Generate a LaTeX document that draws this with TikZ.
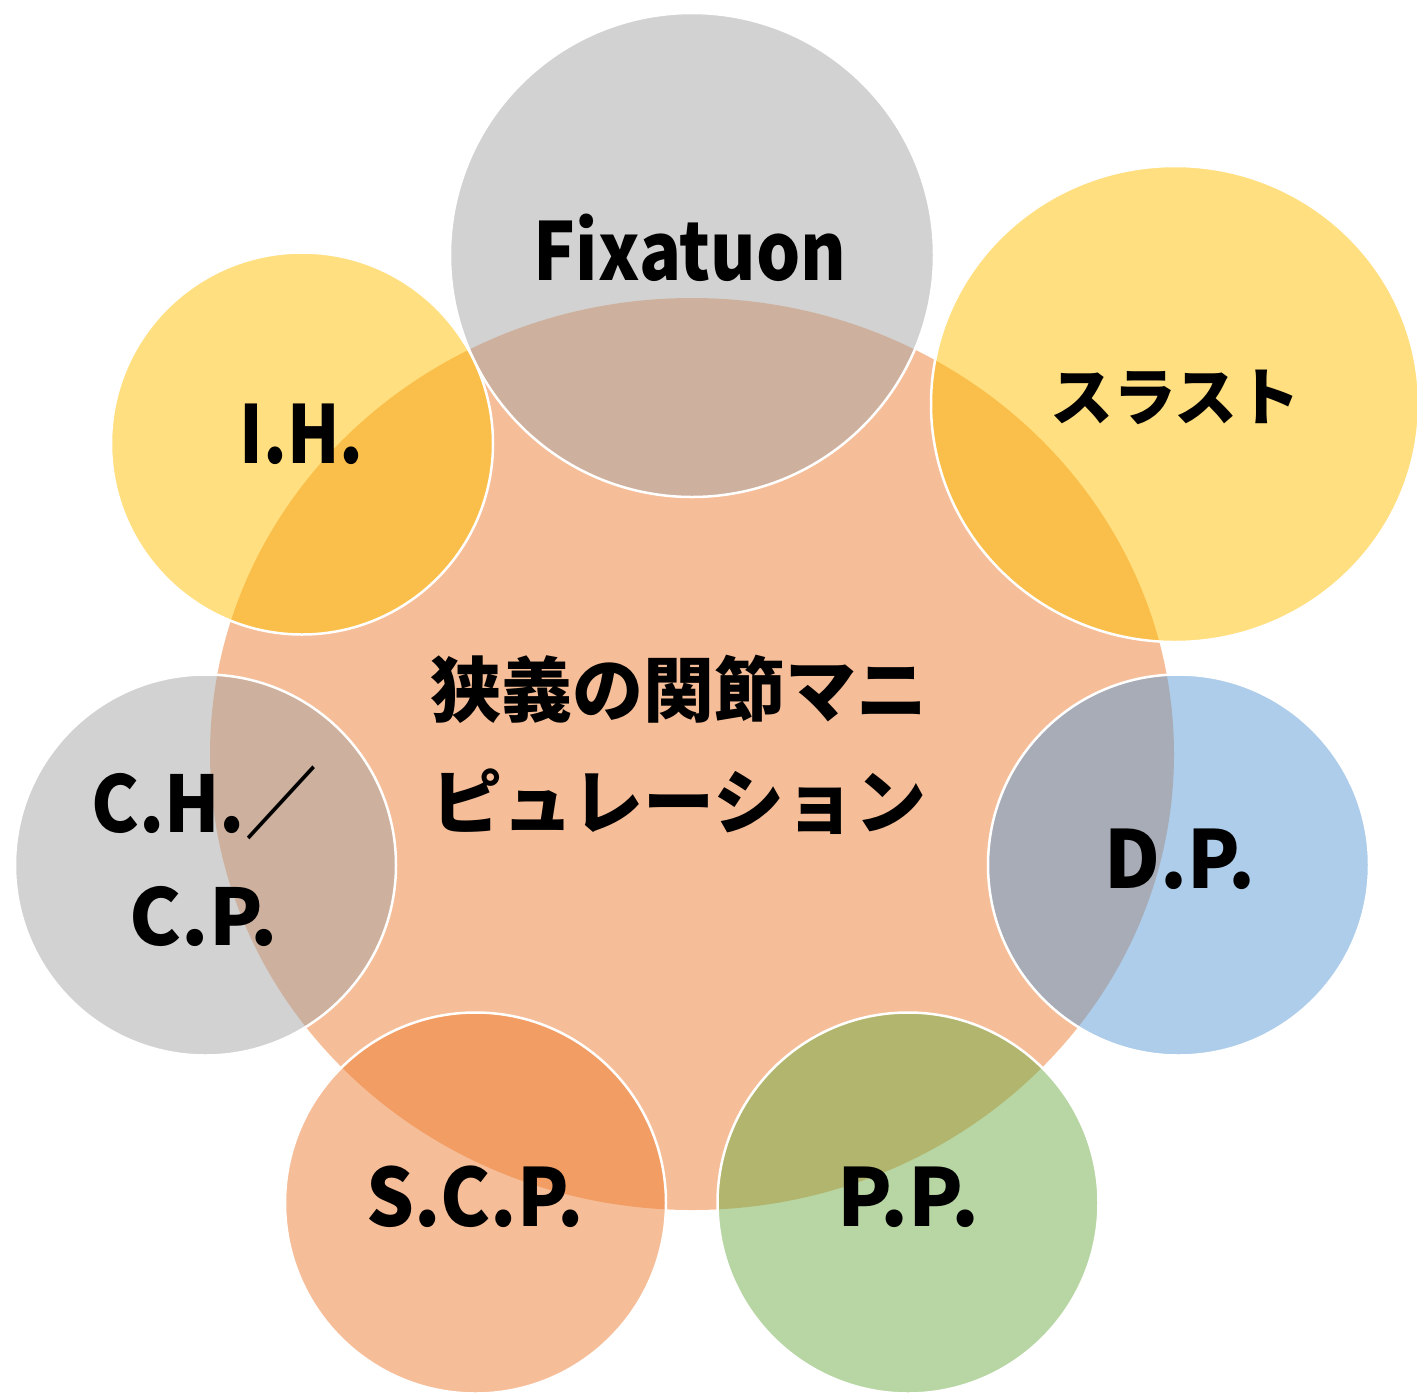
\documentclass[tikz,border=0pt]{standalone}
\usepackage{graphicx}
\usepackage{fontspec}
\setmainfont{Noto Sans CJK JP}
\definecolor{cgray}{HTML}{A5A5A5}
\definecolor{cyellow}{HTML}{FFC000}
\definecolor{cblue}{HTML}{5B9BD5}
\definecolor{cgreen}{HTML}{70AD47}
\definecolor{corange}{HTML}{ED7D31}
\newcommand{\nx}[2]{\scalebox{#1}[1]{#2}}
\tikzset{
  bubble/.style={fill opacity=0.5, draw=white, draw opacity=1, line width=2.5pt},
  lbl/.style={text=black, inner sep=0pt, align=center, font=\bfseries\fontsize{80}{113}\selectfont},
  lblj/.style={text=black, inner sep=0pt, align=center, font=\bfseries\fontsize{63}{100}\selectfont},
  lblc/.style={text=black, inner sep=0pt, align=center, font=\bfseries\fontsize{71}{112}\selectfont}
}
\begin{document}
\begin{tikzpicture}[x=1pt,y=-1pt]
\useasboundingbox (0,0) rectangle (1417,1393);
% central ellipse
\fill[corange, fill opacity=0.5] (692,754) ellipse [x radius=482, y radius=456];
% satellites
\path[bubble, fill=cgray]   (692,255)  circle [radius=242];
\path[bubble, fill=cyellow] (1175,404) ellipse [x radius=244, y radius=238];
\path[bubble, fill=cblue]   (1178.5,865) circle [radius=190.5];
\path[bubble, fill=cgreen]  (908,1203) circle [radius=190.5];
\path[bubble, fill=corange] (475.5,1203) circle [radius=190.5];
\path[bubble, fill=cgray]   (205.5,865) circle [radius=190.5];
\path[bubble, fill=cyellow] (302,443.5) circle [radius=191];
% labels
\node[lblc] (center) at (679,745) {狭義の関節マニ\\ピュレーション};
\node[lbl]  (fix) at (690,247.5) {\nx{0.87}{Fixatuon}};
\node[lblj] (thrust) at (1175.5,397.5) {スラスト};
\node[lbl]  (ih) at (301.5,434.5) {\nx{0.85}{I.H.}};
\node[lbl]  (dp) at (1180,859) {\nx{0.96}{D.P.}};
\node[lbl]  (pp) at (908.5,1197) {P.P.};
\node[lbl]  (scp) at (475,1197) {\nx{0.94}{S.C.P.}};
\node[lbl, font=\bfseries\fontsize{78}{113}\selectfont] (chcp) at (204,856.5) {\nx{0.92}{C.H.／}\\C.P.};
\end{tikzpicture}
\end{document}
